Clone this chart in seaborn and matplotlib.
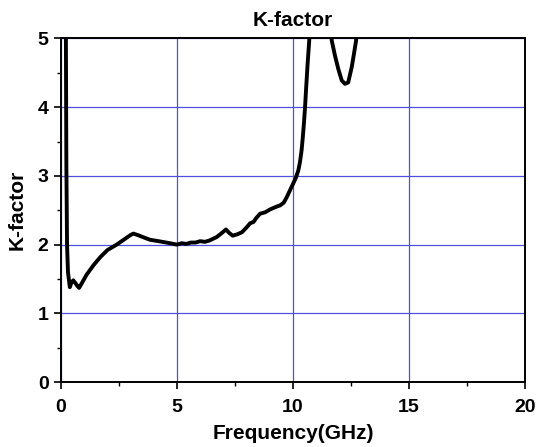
import matplotlib
matplotlib.use("Agg")
import matplotlib.pyplot as plt
import seaborn as sns
import pandas as pd
from matplotlib.ticker import MultipleLocator

# Stability factor K versus frequency
freq_ghz = [0.10, 0.15, 0.20, 0.23, 0.26, 0.30, 0.38, 0.45, 0.53, 0.62, 0.70, 0.78,
            0.90, 1.10, 1.40, 1.70, 2.00, 2.40, 2.70, 3.00, 3.12, 3.30, 3.60, 3.84,
            4.20, 4.70, 4.99, 5.20, 5.40, 5.60, 5.80, 6.00, 6.20, 6.40, 6.71, 6.90,
            7.11, 7.25, 7.40, 7.60, 7.80, 8.00, 8.15, 8.30, 8.40, 8.58, 8.80, 9.00,
            9.20, 9.35, 9.44, 9.60, 9.73, 9.94, 10.01, 10.12, 10.23, 10.30, 10.37,
            10.42, 10.47, 10.52, 10.56, 10.63, 10.70, 10.80, 11.00, 11.30, 11.50,
            11.67, 11.81, 11.95, 12.10, 12.24, 12.38, 12.53, 12.63, 12.72, 12.80]
k_factor = [30.0, 12.0, 6.0, 3.2, 2.0, 1.60, 1.38, 1.45, 1.48, 1.44, 1.40, 1.37,
            1.44, 1.56, 1.70, 1.82, 1.92, 2.00, 2.07, 2.14, 2.16, 2.14, 2.10, 2.07,
            2.05, 2.02, 2.00, 2.02, 2.01, 2.03, 2.03, 2.05, 2.04, 2.06, 2.11, 2.16,
            2.22, 2.17, 2.13, 2.15, 2.18, 2.25, 2.31, 2.33, 2.38, 2.45, 2.47, 2.51,
            2.54, 2.56, 2.57, 2.61, 2.69, 2.84, 2.89, 2.97, 3.08, 3.20, 3.37,
            3.55, 3.76, 4.00, 4.24, 4.63, 4.97, 6.00, 8.00, 8.00, 6.00,
            4.97, 4.75, 4.56, 4.39, 4.34, 4.36, 4.58, 4.78, 4.97, 5.60]

df = pd.DataFrame({"Frequency": freq_ghz, "K": k_factor})

sns.set_style("white")
plt.rcParams["font.family"] = ["Liberation Sans", "DejaVu Sans"]
plt.rcParams["font.weight"] = "bold"
plt.rcParams["text.color"] = "black"
plt.rcParams["axes.labelcolor"] = "black"

fig = plt.figure(figsize=(5.38, 4.47), dpi=100)
ax = fig.add_axes([0.1134, 0.1454, 0.8624, 0.7685])

sns.lineplot(data=df, x="Frequency", y="K", ax=ax, color="black",
             linewidth=2.8, sort=False, zorder=3)

ax.set_xlim(0, 20)
ax.set_ylim(0, 5)
ax.xaxis.set_major_locator(MultipleLocator(5))
ax.xaxis.set_minor_locator(MultipleLocator(2.5))
ax.yaxis.set_major_locator(MultipleLocator(1))
ax.yaxis.set_minor_locator(MultipleLocator(0.5))

ax.grid(True, which="major", color="#5050dc", linewidth=0.9)
ax.set_axisbelow(True)

for side in ["left", "right", "top", "bottom"]:
    ax.spines[side].set_visible(True)
    ax.spines[side].set_color("black")
    ax.spines[side].set_linewidth(1.4)

ax.tick_params(axis="both", which="major", direction="out", length=5, width=1.2,
               labelsize=14, bottom=True, left=True, colors="black")
ax.tick_params(axis="x", which="major", pad=7)
ax.tick_params(axis="y", which="major", pad=4)
ax.tick_params(axis="both", which="minor", direction="out", length=3, width=1.0,
               bottom=True, left=True, colors="black")
for lab in ax.get_xticklabels() + ax.get_yticklabels():
    lab.set_fontweight("bold")
    lab.set_color("black")

ax.set_xlabel("Frequency(GHz)", fontsize=15, fontweight="bold", labelpad=6,
              color="black")
ax.set_ylabel("K-factor", fontsize=15, fontweight="bold", labelpad=8,
              color="black")
ax.set_title("K-factor", fontsize=15, fontweight="bold", pad=9, color="black")

fig.savefig("out.png", dpi=100)
